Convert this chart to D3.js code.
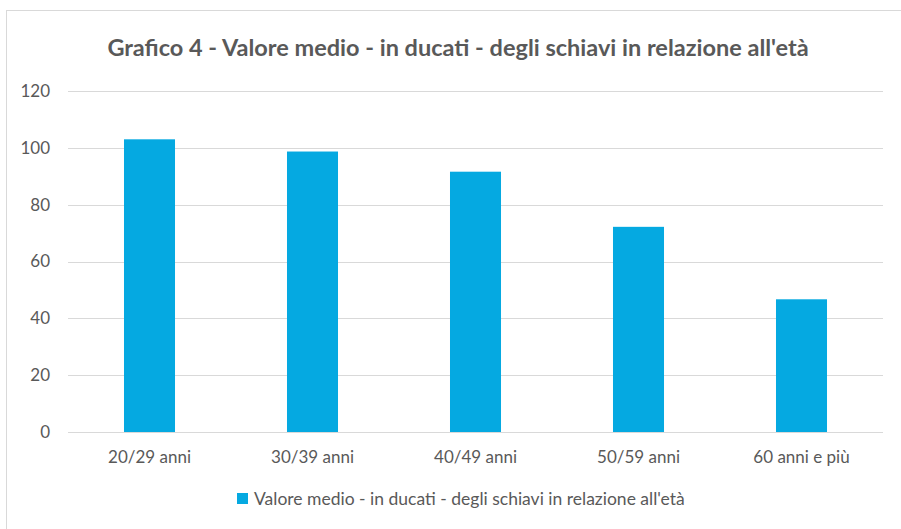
<!DOCTYPE html>
<html>
<head>
<meta charset="utf-8">
<script src="https://cdn.jsdelivr.net/npm/d3@7"></script>
<style>
  body { margin: 0; background: #fff; }
  text { font-family: Lato, "Open Sans", sans-serif; fill: #595959; }
</style>
</head>
<body>
<div id="chart"></div>
<script>
const title = "Grafico 4 - Valore medio - in ducati - degli schiavi in relazione all'età"
const categories = ['20/29 anni', '30/39 anni', '40/49 anni', '50/59 anni', '60 anni e più']
const values = [103, 98.7, 91.6, 72.2, 46.7]
const yTicks = [0, 20, 40, 60, 80, 100, 120]

const width = 901
const height = 529
const margin = { top: 91, right: 18, bottom: 97, left: 68 }

const svg = d3.select('#chart')
  .append('svg')
  .attr('width', width)
  .attr('height', height)

// outer chart frame
svg.append('rect')
  .attr('x', 6.5)
  .attr('y', 10.5)
  .attr('width', width)
  .attr('height', height)
  .attr('fill', 'none')
  .attr('stroke', '#d9d9d9')

const x = d3.scaleBand()
  .domain(categories)
  .range([margin.left, width - margin.right])
  .paddingInner(0.687)
  .paddingOuter(0.3435)

const y = d3.scaleLinear()
  .domain([0, 120])
  .range([height - margin.bottom, margin.top])

// grid
svg.append('g')
  .selectAll('line')
  .data(yTicks)
  .enter()
  .append('line')
  .attr('x1', margin.left)
  .attr('x2', width - margin.right)
  .attr('y1', d => Math.round(y(d)) + 0.5)
  .attr('y2', d => Math.round(y(d)) + 0.5)
  .attr('stroke', '#d9d9d9')
  .attr('stroke-width', 1)

const yAxis = svg.append('g')
  .attr('transform', 'translate(' + (margin.left - 18) + ',0)')
  .call(d3.axisLeft(y).tickValues(yTicks).tickSize(0).tickPadding(0))
yAxis.select('.domain').remove()
yAxis.selectAll('text').style('font-size', '17px')

svg.append('g')
  .selectAll('rect')
  .data(values)
  .enter()
  .append('rect')
  .attr('x', (d, i) => x(categories[i]))
  .attr('width', x.bandwidth())
  .attr('y', d => y(d))
  .attr('height', d => y(0) - y(d))
  .attr('fill', '#05a9e1')

const xAxis = svg.append('g')
  .attr('transform', 'translate(0,' + y(0) + ')')
  .call(d3.axisBottom(x).tickSize(0).tickPadding(19))
xAxis.select('.domain').remove()
xAxis.selectAll('text').style('font-size', '17px')

svg.append('text')
  .attr('x', 458)
  .attr('y', 56)
  .attr('text-anchor', 'middle')
  .style('font-size', '23.5px')
  .style('font-weight', 'bold')
  .text(title)

const legend = svg.append('g')
  .attr('transform', 'translate(237,493)')
legend.append('rect')
  .attr('width', 11)
  .attr('height', 11)
  .attr('fill', '#05a9e1')
legend.append('text')
  .attr('x', 17)
  .attr('y', 12)
  .style('font-size', '17.5px')
  .text(title.replace('Grafico 4 - ', ''))
</script>
</body>
</html>
